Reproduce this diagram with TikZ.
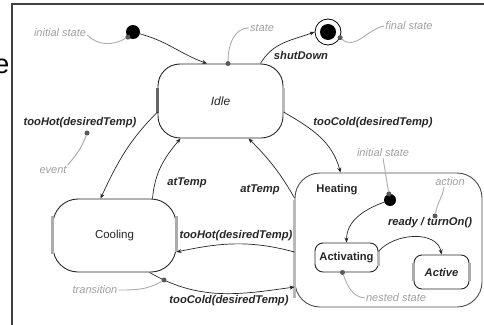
\documentclass[tikz,border=0pt]{standalone}
\usepackage{fontspec}
\setmainfont{Liberation Sans}
\usetikzlibrary{arrows.meta}
\begin{document}
\begin{tikzpicture}[x=1pt,y=-1pt,
  stbox/.style={draw=black!85, line width=0.9pt, rounded corners=#1, inner sep=0pt,
    font=\fontsize{11.2}{13}\selectfont\bfseries, text=black!85},
  trans/.style={-{Stealth[length=5pt,width=4pt]}, line width=0.7pt, draw=black!85},
  note/.style={draw=gray!65, line width=0.9pt},
  ndot/.style={circle, fill=gray!70!black, inner sep=0pt, minimum size=5pt},
  pseudo/.style={circle, fill=black, inner sep=0pt, minimum size=#1},
  lbl/.style={font=\fontsize{11.2}{13}\selectfont\bfseries\itshape, text=black!85, inner sep=1pt},
  nlbl/.style={font=\fontsize{11}{13}\selectfont\itshape, text=gray!75, inner sep=1pt},
  side/.style={line width=2.6pt, draw=#1},
]
\useasboundingbox (0,0) rectangle (484,324);

% frame and the letter at the left edge
\draw[black!75, line width=1.2pt] (12,330) -- (12,4) -- (490,4);
\node[anchor=base east, inner sep=0pt, font=\fontsize{27}{27}\selectfont] (edgeletter) at (9.5,73) {e};

% states
\node[stbox=22pt, minimum width=125pt, minimum height=74pt,
      font=\fontsize{12}{14}\selectfont\itshape] (idle) at (220.5,101) {Idle};
\node[stbox=25pt, minimum width=123pt, minimum height=73pt,
      font=\fontsize{11.5}{14}\selectfont] (cooling) at (114.5,235.5) {Cooling};
\node[stbox=25pt, minimum width=187pt, minimum height=134pt, draw=black!70] (heating) at (388.5,240) {};
\node[font=\fontsize{11.2}{13}\selectfont\bfseries, text=black!85] (heatlbl) at (337,190) {Heating};
\node[stbox=8pt, minimum width=63pt, minimum height=29pt] (activating) at (346.5,257.5) {Activating};
\node[stbox=8pt, minimum width=55pt, minimum height=34pt,
      font=\fontsize{11.2}{13}\selectfont\bfseries\itshape] (active) at (441.5,272) {Active};

% shaded sides of the state boxes
\draw[side=gray!80!black] ([yshift=13]idle.west) -- ([yshift=-12]idle.west);
\draw[side=gray!55] ([yshift=13]idle.east) -- ([yshift=-12]idle.east);
\draw[side=gray!65] ([yshift=20]cooling.west) -- ([yshift=-18]cooling.west);
\draw[side=gray!65] ([yshift=20]cooling.east) -- ([yshift=-16]cooling.east);
\draw[side=gray!55] ([yshift=40]heating.west) -- ([yshift=-58]heating.west);
\draw[side=gray!55] ([yshift=7]activating.east) -- ([yshift=-8]activating.east);
\draw[side=gray!65] ([yshift=9]active.west) -- ([yshift=-9]active.west);
\draw[side=gray!65] ([yshift=9]active.east) -- ([yshift=-9]active.east);

% pseudo states
\node[pseudo=14pt] (init) at (133,32) {};
\node[circle, draw=black, line width=0.8pt, fill=white, minimum size=26pt, inner sep=0pt] (final) at (328,32) {};
\node[pseudo=16pt] (finalcore) at (final) {};
\node[pseudo=12pt] (init2) at (390,200) {};

% transitions
\draw[trans] (init) to[out=-15,in=160] ([xshift=-13.5]idle.north);
\draw[trans] ([xshift=40]idle.north) to[out=60,in=200] (final.west);
\node[lbl] (shutlbl) at (301,55) {shutDown};

\draw[trans] ([yshift=-11]idle.west) to[out=225,in=65] ([xshift=-14]cooling.north);
\node[lbl] (hotlbl) at (80,123) {tooHot(desiredTemp)};

\draw[trans] ([xshift=38]cooling.north) to[out=85,in=230] ([xshift=-40]idle.south);
\node[lbl] (attemp1) at (187,183) {atTemp};

\draw[trans] ([yshift=-11]idle.east) to[out=-30,in=105] ([xshift=-48]heating.north);
\node[lbl] (coldlbl) at (373,123) {tooCold(desiredTemp)};

\draw[trans] ([yshift=42]heating.west) to[out=120,in=-45] ([xshift=28]idle.south);
\node[lbl] (attemp2) at (260,190) {atTemp};

\draw[trans] ([yshift=-12]heating.west) to[out=165,in=12] ([yshift=-16.5]cooling.east);
\node[lbl] (hotlbl2) at (236,236) {tooHot(desiredTemp)};

\draw[trans] ([xshift=35]cooling.south) to[out=-30,in=188]
  node[pos=0.1, ndot] (trdot) {} ([yshift=-47]heating.west);
\node[lbl] (coldlbl2) at (229,301) {tooCold(desiredTemp)};

\draw[trans] (init2) to[out=200,in=90] (activating.north);
\draw[trans] ([yshift=6]activating.east) to[out=50,in=100] (active.north);
\node[lbl] (readylbl) at (430,223) {ready / turnOn()};

% annotations
\node[nlbl] (ninit) at (60,33) {initial state};
\node[ndot] (initdot) at (init.225) {};
\draw[note] ([yshift=-2]ninit.east) to[out=-45,in=210] (initdot);

\node[nlbl] (nstate) at (262,28) {state};
\node[ndot] (statedot) at ([xshift=7.5]idle.north) {};
\draw[note] (statedot) to[out=90,in=180] (nstate.west);

\node[nlbl] (nfinal) at (409,26) {final state};
\node[ndot] (finaldot) at (final.-25) {};
\draw[note] (finaldot) to[out=-40,in=190] (nfinal.west);

\node[nlbl] (nevent) at (53,170) {event};
\node[ndot] (evdot) at (87,133) {};
\draw[note, line width=1pt] (evdot) to[out=250,in=50] (nevent.north east);

\node[nlbl] (ntrans) at (95,290) {transition};
\draw[note] (ntrans.east) to[out=0,in=210] (trdot);

\node[nlbl] (ninit2) at (383,153) {initial state};
\node[ndot] (init2dot) at (init2.100) {};
\draw[note] (ninit2.south) to[out=-80,in=100] (init2dot);

\node[nlbl] (naction) at (450,182) {action};
\node[ndot] (actdot) at (435,216) {};
\draw[note] ([xshift=-6]naction.south) to[out=-100,in=80] (actdot);

\node[nlbl] (nnested) at (396,298) {nested state};
\node[ndot] (nestdot) at ([xshift=-4]activating.south) {};
\draw[note] (nestdot) to[out=-70,in=175] (nnested.west);
\end{tikzpicture}
\end{document}
